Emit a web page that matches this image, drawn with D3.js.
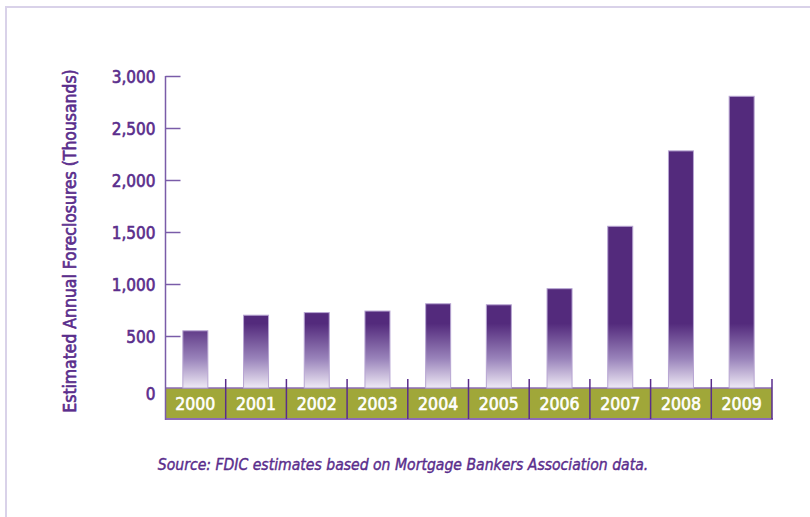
<!DOCTYPE html>
<html><head><meta charset="utf-8">
<script src="https://cdn.jsdelivr.net/npm/d3@7"></script>
<style>body{margin:0;background:#fff}svg{display:block}</style>
</head><body>
<script>
const years = ["2000","2001","2002","2003","2004","2005","2006","2007","2008","2009"];
const foreclosures = [550, 700, 725, 740, 810, 800, 955, 1555, 2280, 2805];
const yTicks = [0, 500, 1000, 1500, 2000, 2500, 3000];
const yLabel = "Estimated Annual Foreclosures (Thousands)";
const source = "Source: FDIC estimates based on Mortgage Bankers Association data.";

const W = 810, H = 517;
const purple = "#5a2d8c", dark = "#532a7c", green = "#a0a739";
const font = "'Liberation Sans Narrow','DejaVu Sans Condensed','Roboto Condensed',sans-serif";

const svg = d3.select("body").append("svg").attr("width", W).attr("height", H);

// frame
svg.append("path").attr("d", `M6,${H} L6,7 L${W},7`).attr("fill","none")
  .attr("stroke","#d9d2e9").attr("stroke-width",2);

const x = d3.scaleBand().domain(years).range([165, 772]).paddingInner(0).paddingOuter(0);
const y = d3.scaleLinear().domain([0, 3000]).range([388, 76]);

const defs = svg.append("defs");
const g = defs.append("linearGradient").attr("id","bg").attr("gradientUnits","userSpaceOnUse")
  .attr("x1",0).attr("x2",0).attr("y1",y(0)).attr("y2",y(620));
g.append("stop").attr("offset",0).attr("stop-color","#efeaf5");
g.append("stop").attr("offset",0.45).attr("stop-color","#9a84bb");
g.append("stop").attr("offset",1).attr("stop-color",dark);

// category band
svg.append("rect").attr("x",165).attr("y",y(0)).attr("width",772-165).attr("height",31)
  .attr("fill",green);
svg.append("line").attr("x1",165).attr("x2",772).attr("y1",y(0)).attr("y2",y(0))
  .attr("stroke","#8c6bb5").attr("stroke-width",1.5);
svg.append("line").attr("x1",165).attr("x2",773).attr("y1",y(0)+31).attr("y2",y(0)+31)
  .attr("stroke","#8c6bb5").attr("stroke-width",2);

// dividers
const bounds = years.slice(1).map(d => x(d)).concat([x(years[years.length-1]) + x.bandwidth()]);
svg.selectAll("line.div").data(bounds).enter().append("line")
  .attr("x1",d=>d).attr("x2",d=>d).attr("y1",379).attr("y2",y(0)+31)
  .attr("stroke",purple).attr("stroke-width",1.5);

// bars
const bw = 25;
svg.selectAll("rect.bar").data(foreclosures).enter().append("rect")
  .attr("x",(d,i)=>x(years[i]) + x.bandwidth()/2 - bw/2)
  .attr("y",d=>y(d)).attr("width",bw).attr("height",d=>y(0)-y(d))
  .attr("fill","url(#bg)").attr("stroke","#b7a5d2").attr("stroke-width",1);

function heavy(sel, col){ return sel.attr("stroke",col).attr("stroke-width",0.6).attr("stroke-linejoin","round"); }

// year labels
heavy(svg.selectAll("text.yr").data(years).enter().append("text")
  .attr("x",d=>x(d)+x.bandwidth()/2).attr("y",y(0)+22)
  .attr("text-anchor","middle").attr("fill","#fff")
  .style("font-family",font).style("font-size","17.5px").text(d=>d), "#fff");

// y axis
const axis = d3.axisLeft(y).tickValues(yTicks).tickSize(-15).tickFormat(d3.format(","));
const ax = svg.append("g").attr("transform","translate(165.5,0)").call(axis);
ax.select(".domain").remove();
ax.selectAll(".tick line").attr("stroke","#7a5ca8").attr("stroke-width",1.5);
ax.selectAll(".tick").filter(d=>d===0).select("line").remove();
heavy(ax.selectAll(".tick text").attr("x",-10).attr("dy","0.4em").attr("fill",purple)
  .style("font-family",font).style("font-size","17px"), purple);
ax.selectAll(".tick").filter(d=>d===0).select("text").attr("dy","0.7em");
svg.append("line").attr("x1",165.5).attr("x2",165.5).attr("y1",y(3000)).attr("y2",y(0)+32)
  .attr("stroke","#7a5ca8").attr("stroke-width",1.5);

// y label
heavy(svg.append("text").attr("transform","translate(76,241) rotate(-90)")
  .attr("text-anchor","middle").attr("fill",purple)
  .style("font-family",font).style("font-size","17.4px").text(yLabel), purple);

// source
heavy(svg.append("text").attr("x",403).attr("y",470).attr("text-anchor","middle")
  .attr("fill",purple).style("font-family",font).style("font-size","15.6px")
  .style("font-style","italic").text(source), purple).attr("stroke-width",0.4);
</script>
</body></html>
